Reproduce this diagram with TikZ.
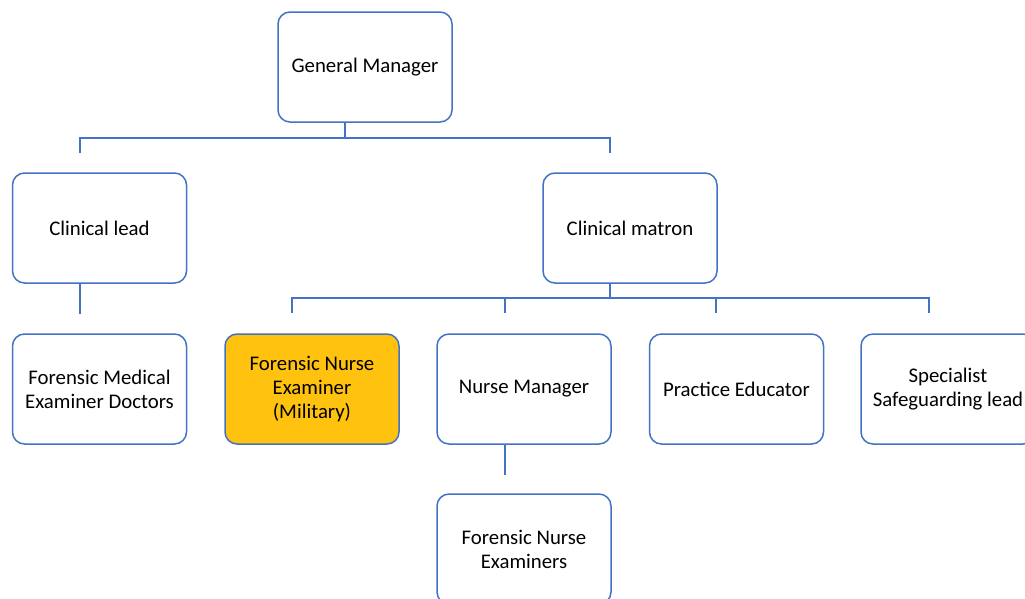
\documentclass[tikz,border=0pt]{standalone}
\usepackage{fontspec}
\setmainfont{Carlito}
\definecolor{boxblue}{RGB}{68,114,196}
\definecolor{gold}{RGB}{255,194,14}
\tikzset{
  box/.style={draw=boxblue, line width=1.5pt, rounded corners=12pt, minimum width=174pt,
    minimum height=110pt, align=center, fill=white, text=black, inner sep=2pt,
    font=\fontsize{20.8}{24}\selectfont},
  conn/.style={draw=boxblue, line width=1.8pt}
}
\begin{document}
\begin{tikzpicture}[x=1pt,y=-1pt]
\clip (0,0) rectangle (1025,598);
\fill[white] (0,0) rectangle (1025,598);
\node[box] (gm) at (365,67) {General Manager};
\node[box] (cl) at (99.5,228) {Clinical lead};
\node[box] (cm) at (630,228) {Clinical matron};
\node[box] (fme) at (99.5,389) {Forensic Medical\\Examiner Doctors};
\node[box,fill=gold] (fnem) at (312,389) {Forensic Nurse\\Examiner\\(Military)};
\node[box] (nm) at (524,389) {Nurse Manager};
\node[box] (pe) at (736.5,389) {Practice Educator};
\node[box] (ssl) at (948,389) {Specialist\\Safeguarding lead};
\node[box] (fnes) at (524,549) {Forensic Nurse\\Examiners};
% connectors
\coordinate (j1) at (345,138);
\coordinate (d1) at (80,153);
\coordinate (d2) at (610,153);
\draw[conn] (gm.south -| j1) -- (j1);
\draw[conn] (d1) |- (j1) -| (d2);
\coordinate (c1) at (80,314);
\draw[conn] (cl.south -| c1) -- (c1);
\coordinate (j2) at (610,298);
\coordinate (e1) at (292,313);
\coordinate (e2) at (505,313);
\coordinate (e3) at (716,313);
\coordinate (e4) at (929,313);
\draw[conn] (cm.south -| j2) -- (j2);
\draw[conn] (e1) |- (j2) -| (e4);
\draw[conn] (e2) -- (e2 |- j2);
\draw[conn] (e3) -- (e3 |- j2);
\coordinate (n1) at (505,475);
\draw[conn] (nm.south -| n1) -- (n1);
\end{tikzpicture}
\end{document}
